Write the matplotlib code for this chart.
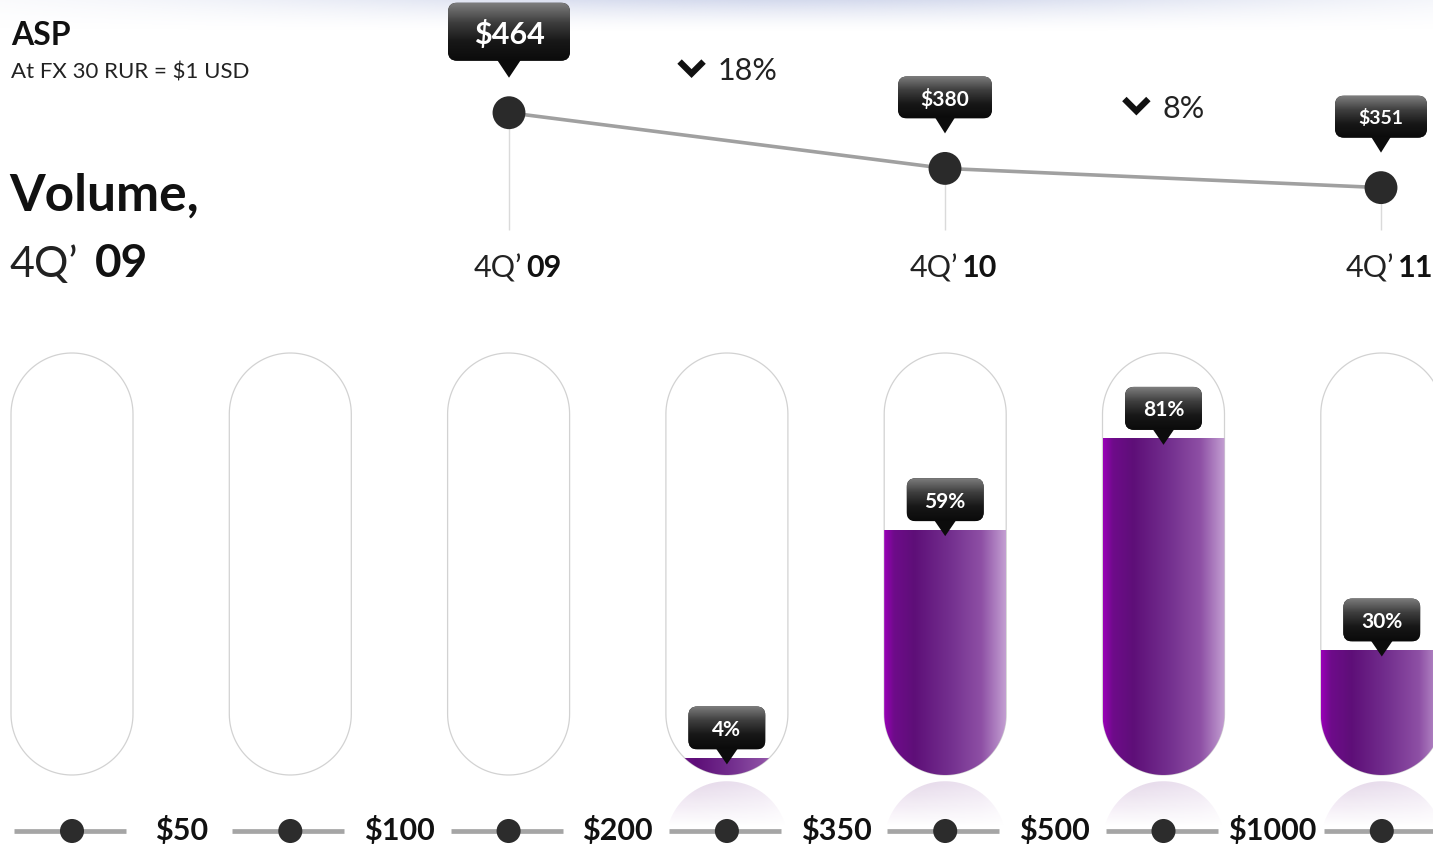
import numpy as np
import matplotlib
matplotlib.use('Agg')
import matplotlib.pyplot as plt
from matplotlib.patches import FancyBboxPatch, Polygon, PathPatch
from matplotlib.path import Path
from matplotlib.colors import LinearSegmentedColormap, to_rgb

plt.rcParams['font.family'] = ['Lato', 'DejaVu Sans']

# ---- data ----
quarters = ['09', '10', '11']
asp = [464, 380, 351]                 # average selling price, USD
asp_drop = ['18%', '8%']
price_bands = ['$50', '$100', '$200', '$350', '$500', '$1000']
volume_pct = [0, 0, 0, 4, 59, 81, 30]  # share of volume, 4Q'09

W, H = 1433, 849
fig = plt.figure(figsize=(W / 100, H / 100), dpi=100)
fig.patch.set_facecolor('white')


def new_axes(z):
    a = fig.add_axes([0, 0, 1, 1], zorder=z)
    a.axis('off')
    a.set_autoscale_on(False)
    return a


# background / pixel overlay axes, bar axes (column index x pct), line axes (quarter x USD)
axbg = new_axes(0)
axbg.set_xlim(0, W); axbg.set_ylim(H, 0)
ax = new_axes(1)
col_w, pct_h = 218.3, 4.15
x0_px, base_px = 72, 775
ax.set_xlim(-x0_px / col_w, (W - x0_px) / col_w)
ax.set_ylim((base_px - H) / pct_h, base_px / pct_h)
axl = new_axes(2)
axl.set_xlim(-509 / 436, (W - 509) / 436)
axl.set_ylim(-646.5, 634)
axp = new_axes(3)
axp.set_xlim(0, W); axp.set_ylim(H, 0)


def to_px(a, x, y):
    return axp.transData.inverted().transform(a.transData.transform((x, y)))


def capsule(xc, hw, y0, y1, ry, n=60):
    t = np.linspace(np.pi, 2 * np.pi, n)
    bx, by = xc + hw * np.cos(t), y0 + ry + ry * np.sin(t)
    t2 = np.linspace(0, np.pi, n)
    tx, ty = xc + hw * np.cos(t2), y1 - ry + ry * np.sin(t2)
    v = np.concatenate([np.c_[bx, by], np.c_[tx, ty], [[bx[0], by[0]]]])
    return Path(v, closed=True)


dark = LinearSegmentedColormap.from_list('dark', ['#7c7c7c', '#3e3e3e', '#171717', '#0b0b0b'])
dgrad = dark(np.linspace(0, 1, 64))[:, None, :]


def bubble(px, tip_y, text, w, h, th, thw, fs):
    yb = tip_y - th
    yt = yb - h
    box = FancyBboxPatch((px - w / 2, yt), w, h, boxstyle='round,pad=0,rounding_size=9',
                         fc='#222222', ec='none', zorder=4)
    axp.add_patch(box)
    im = axp.imshow(dgrad, extent=[px - w / 2, px + w / 2, yb, yt], aspect='auto', zorder=4.1)
    im.set_clip_path(box)
    axp.add_patch(Polygon([[px - thw, yb - 1], [px + thw, yb - 1], [px, tip_y]], closed=True,
                          fc='#0c0c0c', ec='none', zorder=4.2))
    axp.text(px, yt + h / 2, text, ha='center', va='center_baseline', fontsize=fs,
             fontweight='bold', color='white', zorder=5)


# faint bluish glow at the top
yy = np.linspace(0, 1, 60)[:, None]
xx = np.linspace(0, 1, 300)[None, :]
bg = np.zeros((60, 300, 4))
bg[..., :3] = to_rgb('#c3cbe6')
bg[..., 3] = (1 - yy) ** 1.5 * np.exp(-((xx - 0.55) / 0.38) ** 2) * 0.7
axbg.imshow(bg, extent=[0, W, 32, 0], aspect='auto')

# ---- capsules ----
hw = 61 / col_w
ry = 61 / pct_h
cap_top = (base_px - 353) / pct_h
fill_cmap = LinearSegmentedColormap.from_list(
    'fill', [(0, '#9a00b8'), (0.08, '#6e0b8a'), (0.25, '#5e0f78'), (0.55, '#74308f'),
             (0.8, '#8e50a5'), (1, '#c39fd2')])
grad = fill_cmap(np.linspace(0, 1, 256))[None, :, :]

for i, v in enumerate(volume_pct):
    shell = PathPatch(capsule(i, hw, 0, cap_top, ry), fc='white', ec='#d2d2d2', lw=0.9, zorder=1)
    ax.add_patch(shell)
    if v > 0:
        im = ax.imshow(grad, extent=[i - hw, i + hw, 0, v], aspect='auto', zorder=2,
                       interpolation='bilinear')
        im.set_clip_path(shell)
        # mirrored reflection under the capsule
        refl = PathPatch(capsule(i, hw, -1.5 - cap_top, -1.5, ry), transform=ax.transData)
        rg = np.zeros((50, 256, 4))
        rg[..., :3] = grad[0, :, :3]
        rg[..., 3] = np.linspace(0.16, 0, 50)[:, None]
        im2 = ax.imshow(rg, extent=[i - hw, i + hw, -1.5 - 11, -1.5], aspect='auto', zorder=1)
        im2.set_clip_path(refl)

# ---- price slider row ----
slider_y = (base_px - 831) / pct_h
for i in range(len(volume_pct)):
    ax.plot([i - 58 / col_w, i + 54 / col_w], [slider_y] * 2, color='#a5a5a5', lw=3.4,
            solid_capstyle='butt', zorder=3)
ax.scatter(range(len(volume_pct)), [slider_y] * len(volume_pct), s=300, color='#2c2c2c',
           edgecolors='none', zorder=4)
for j, lab in enumerate(price_bands):
    ax.text(j + 0.5, slider_y, lab, ha='center', va='center', fontsize=22, fontweight='bold',
            color='#111111', zorder=4)

# ---- ASP line ----
qx = np.arange(len(asp))
axl.vlines(qx, 287, asp, color='#dadada', lw=1, zorder=1)
axl.plot(qx, asp, color='#a0a0a0', lw=2.6, zorder=2)
axl.scatter(qx, asp, s=560, color='#2a2a2a', edgecolors='none', zorder=3)

# bubbles for the bars
for i, v in enumerate(volume_pct):
    if v > 0:
        px, py = to_px(ax, i, v)
        bubble(px, py + 6, f'{v}%', 77, 43, 15, 11, 15)

# bubbles for the ASP points
top_box = [(122, 58, 17, 12, 22), (94, 42, 15, 10, 15), (92, 42, 15, 10, 14)]
for k, v in enumerate(asp):
    px, py = to_px(axl, k, v)
    w, h, th, thw, fs = top_box[k]
    bubble(px, py - 35, f'${v}', w, h, th, thw, fs)

# quarter labels
for k, q in enumerate(quarters):
    px, _ = to_px(axl, k, asp[k])
    axp.text(px + 13, 277, '4Q’', ha='right', va='baseline', fontsize=22, color='#222222')
    axp.text(px + 17, 277, q, ha='left', va='baseline', fontsize=22, fontweight='bold',
             color='#111111')

# drop annotations
fig.canvas.draw()
renderer = fig.canvas.get_renderer()
for k, lab in enumerate(asp_drop):
    x1, y1 = to_px(axl, k, asp[k])
    x2, y2 = to_px(axl, k + 1, asp[k + 1])
    mx, my = (x1 + x2) / 2, (y1 + y2) / 2 - 72
    t = axp.text(0, my, lab, fontsize=22, ha='left', va='center_baseline', color='#222222')
    tw = t.get_window_extent(renderer).width
    left = mx - (41 + tw) / 2
    t.set_x(left + 41)
    cx = left + 15
    axp.plot([cx - 12, cx, cx + 12], [my - 7, my + 5, my - 7], color='#111111', lw=4.5,
             solid_joinstyle='miter', solid_capstyle='butt')

# headings
axp.text(11, 45, 'ASP', fontsize=23, fontweight='bold', va='baseline', color='#111111')
axp.text(11, 78, 'At FX 30 RUR = $1 USD', fontsize=16, va='baseline', color='#222222')
axp.text(9, 211, 'Volume,', fontsize=37, fontweight='bold', va='baseline', color='#111111')
axp.text(9, 277, '4Q’', fontsize=31, va='baseline', color='#222222')
axp.text(95, 277, '09', fontsize=33, fontweight='bold', va='baseline', color='#111111')

fig.savefig('out.png', dpi=100, facecolor='white')
